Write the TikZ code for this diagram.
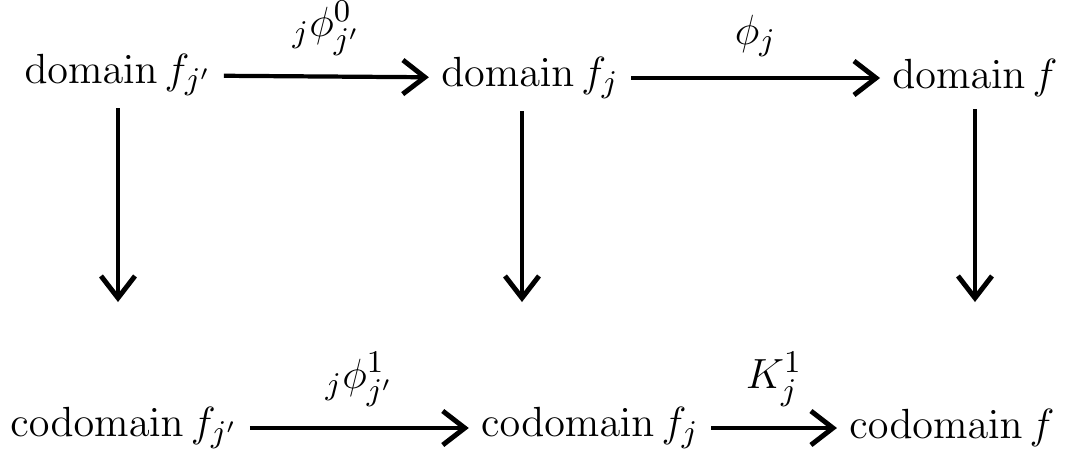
\documentclass[tikz,border=0pt]{standalone}
\usepackage{amsmath}
\usepackage{amssymb}
\usepackage{tikz-cd}
\usetikzlibrary{calc}
\usetikzlibrary{arrows.meta}

\begin{document}
\begin{tikzpicture}[x=0.01cm, y=-0.01cm, font=\fontsize{13}{15}\selectfont,
  mapto/.style={line width=1.2pt, arrows={-Straight Barb[length=0.22cm,width=0.34cm,line width=1.4pt]}}]
\useasboundingbox (0, 0) rectangle (1090, 466);

% objects
\node (d1) at (118, 75) {$\mathrm{domain}\, f_{j'}$};
\node (d2) at (530, 78) {$\mathrm{domain}\, f_j$};
\node (d3) at (975, 78) {$\mathrm{domain}\, f$};
\node (c1) at (124, 428) {$\mathrm{codomain}\, f_{j'}$};
\node (c2) at (590, 428) {$\mathrm{codomain}\, f_j$};
\node (c3) at (952, 428) {$\mathrm{codomain}\, f$};
\coordinate (low) at (0, 302);

\draw [mapto] (d1) -- node [midway,above=2pt] {${}_j\phi^{0}_{j'}$} (d2);
\draw [mapto] (d2) -- node [midway,above=2pt] {$\phi_j$} (d3);
\draw [mapto] (c1) -- node [midway,above=2pt] {${}_j\phi^{1}_{j'}$} (c2);
\draw [mapto] (c2) -- node [midway,above=2pt] {$K^{1}_{j}$} (c3);

\draw [mapto] (d1) -- (d1 |- low);
\draw [mapto] ($(d2.south)+(-8,0)$) -- ($(d2 |- low)+(-8,0)$);
%\draw [mapto] (d2) -- (c2);
\draw [mapto] (d3) -- (d3 |- low);
\end{tikzpicture}
\end{document}
